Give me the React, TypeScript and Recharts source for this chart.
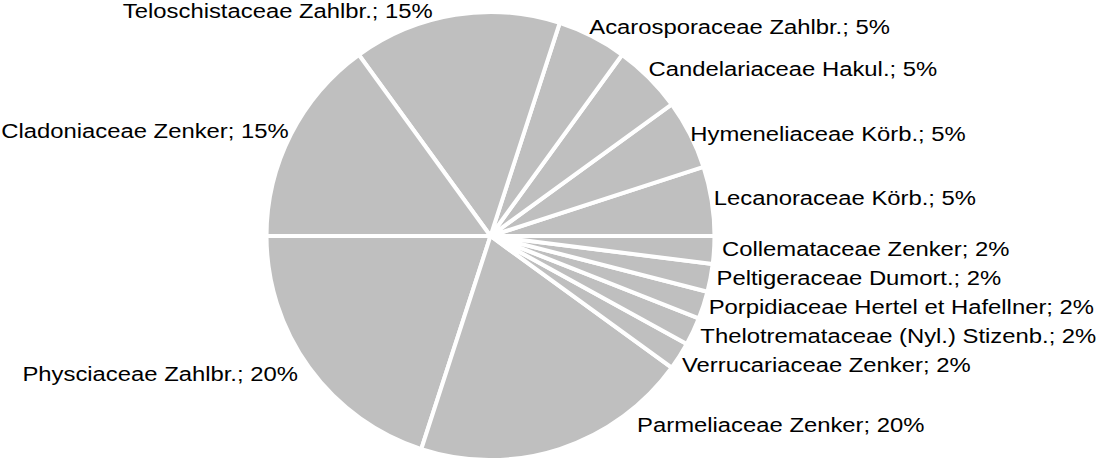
import { Cell, Pie, PieChart } from 'recharts';

// Drawing order: counter-clockwise from 3 o'clock
const families = [
  'Lecanoraceae Körb.',
  'Hymeneliaceae Körb.',
  'Candelariaceae Hakul.',
  'Acarosporaceae Zahlbr.',
  'Teloschistaceae Zahlbr.',
  'Cladoniaceae Zenker',
  'Physciaceae Zahlbr.',
  'Parmeliaceae Zenker',
  'Verrucariaceae Zenker',
  'Thelotremataceae (Nyl.) Stizenb.',
  'Porpidiaceae Hertel et Hafellner',
  'Peltigeraceae Dumort.',
  'Collemataceae Zenker',
];

const shares = [5, 5, 5, 5, 15, 15, 20, 20, 2, 2, 2, 2, 2];

const data = families.map((name, i) => ({ name, value: shares[i] }));

// small hand tweaks so labels sit where the original layout put them
const labelNudge: Record<string, [number, number]> = {
  'Acarosporaceae Zahlbr.': [-6, -2],
  'Candelariaceae Hakul.': [-3, -3],
  'Hymeneliaceae Körb.': [-2, 3],
  'Lecanoraceae Körb.': [0, -2],
  'Collemataceae Zenker': [6, -2],
  'Peltigeraceae Dumort.': [4, -2],
  'Porpidiaceae Hertel et Hafellner': [3, -1.5],
  'Thelotremataceae (Nyl.) Stizenb.': [5, 0],
  'Verrucariaceae Zenker': [0, 4],
  'Parmeliaceae Zenker': [74, -33],
  'Physciaceae Zahlbr.': [-9, 1],
  'Teloschistaceae Zahlbr.': [-19, 5],
};

const WIDTH = 1096;
const HEIGHT = 460;
const OUTER = 224;
const STROKE = 4;
const FONT_SIZE = 21;
const STRETCH = 1.135;
const RAD = Math.PI / 180;

function renderLabel(props: any) {
  const { cx, cy, midAngle, name, value } = props;
  const r = OUTER - STROKE / 2;
  const cos = Math.cos(-midAngle * RAD);
  const sin = Math.sin(-midAngle * RAD);
  const px = cx + r * cos;
  const py = cy + r * sin;
  const right = cos >= 0;
  const [dx, dy] = labelNudge[name] ?? [0, 0];
  const x = px + (right ? 4 : -4) + dx;
  const centerY = py + 11 * sin + dy;
  const baseline = centerY + FONT_SIZE * 0.716 * 0.5;

  return (
    <text
      transform={`translate(${x},${baseline}) scale(${STRETCH},1)`}
      textAnchor={right ? 'start' : 'end'}
      fill="#000"
      fontSize={FONT_SIZE}
      fontFamily="'Liberation Sans', Arial, sans-serif"
    >
      {`${name}; ${value}%`}
    </text>
  );
}

export default function App() {
  return (
    <div style={{ position: 'absolute', left: 0, top: 0, width: WIDTH, height: HEIGHT, background: '#fff' }}>
      <PieChart width={WIDTH} height={HEIGHT} margin={{ top: 0, right: 0, bottom: 0, left: 0 }}>
        <Pie
          data={data}
          dataKey="value"
          nameKey="name"
          cx={490.5}
          cy={236}
          outerRadius={OUTER}
          startAngle={0}
          endAngle={360}
          stroke="#fff"
          strokeWidth={STROKE}
          label={renderLabel}
          labelLine={false}
          isAnimationActive={false}
        >
          {data.map((d) => (
            <Cell key={d.name} fill="#bfbfbf" />
          ))}
        </Pie>
      </PieChart>
    </div>
  );
}
